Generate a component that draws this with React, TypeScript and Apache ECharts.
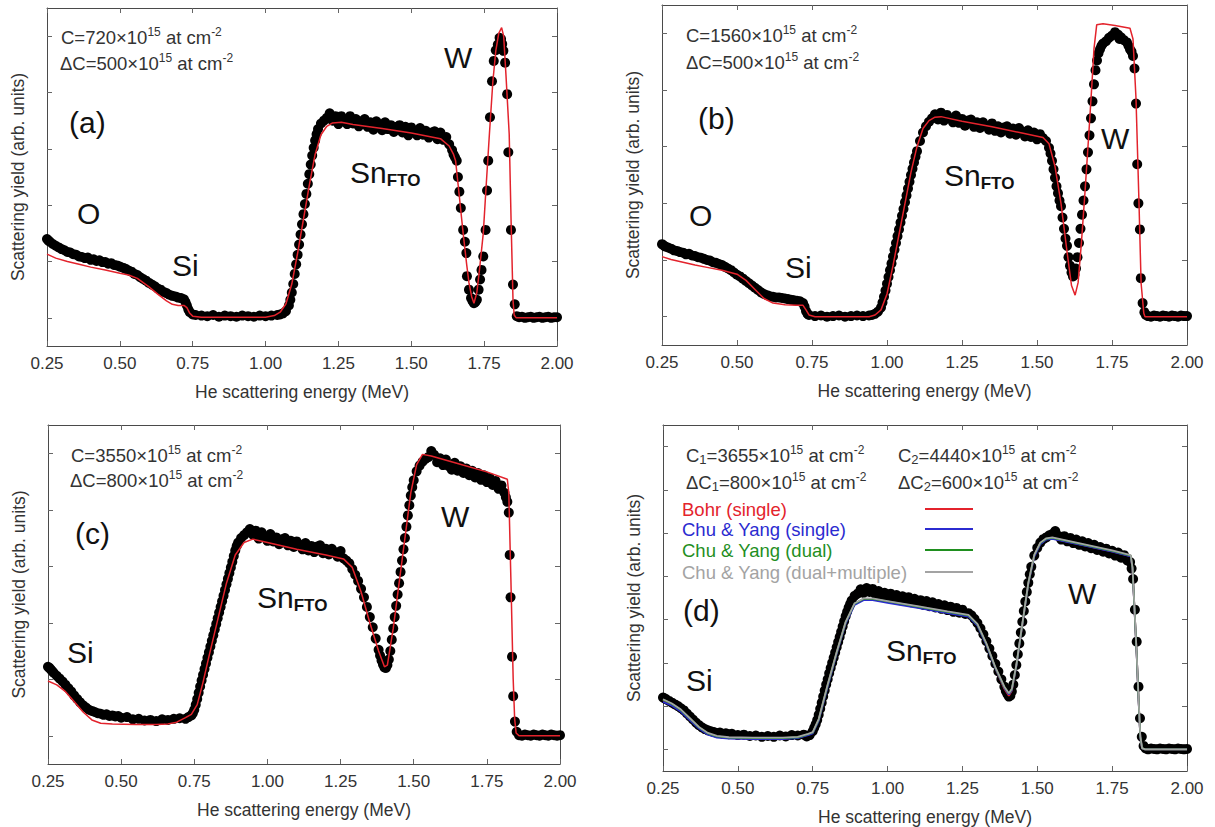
import React, { useEffect, useRef } from "react";
import * as echarts from "echarts";

// ---------------- DATA ----------------
const xTickStep = 0.25;
const xMin = 0.25;
const xMax = 2.0;
const yTicksABC = [0, 1, 2, 3, 4, 5];
const yTicksD = [0, 1, 2, 3, 4, 5, 6, 7];

const xTitle = "He scattering energy (MeV)";
const yTitle = "Scattering yield (arb. units)";

// Panel (a): measured spectrum (black dots)
const dotsA: number[][] = [
  [0.25,1.40],[0.255,1.37],[0.26,1.35],[0.27,1.31],[0.28,1.28],[0.29,1.25],[0.30,1.22],[0.31,1.20],[0.32,1.17],[0.33,1.16],
  [0.34,1.13],[0.35,1.12],[0.36,1.09],[0.37,1.08],[0.38,1.06],[0.39,1.07],[0.40,1.03],[0.41,1.04],[0.42,1.01],[0.43,1.02],
  [0.44,0.99],[0.45,0.99],[0.46,0.96],[0.47,0.97],[0.48,0.94],[0.49,0.93],[0.50,0.91],[0.51,0.89],[0.52,0.87],[0.53,0.84],
  [0.54,0.82],[0.55,0.78],[0.56,0.76],[0.57,0.72],[0.58,0.69],[0.59,0.66],[0.60,0.62],[0.61,0.59],[0.62,0.56],[0.63,0.52],
  [0.64,0.50],[0.65,0.46],[0.66,0.44],[0.67,0.41],[0.68,0.39],[0.69,0.38],[0.70,0.36],[0.71,0.35],[0.72,0.33],[0.725,0.28],
  [0.73,0.22],[0.735,0.15],[0.74,0.10],[0.75,0.06],[0.76,0.05],[0.78,0.04],[0.80,0.03],[0.82,0.05],[0.84,0.02],[0.86,0.04],
  [0.88,0.03],[0.90,0.02],[0.92,0.04],[0.94,0.03],[0.96,0.02],[0.98,0.04],[1.00,0.03],[1.02,0.04],[1.04,0.05],[1.05,0.06],
  [1.06,0.08],[1.07,0.12],[1.08,0.22],[1.085,0.32],[1.09,0.45],[1.095,0.60],[1.10,0.78],[1.105,0.95],[1.11,1.12],[1.115,1.30],
  [1.12,1.48],[1.125,1.66],[1.13,1.84],[1.135,2.02],[1.14,2.20],[1.145,2.38],[1.15,2.55],[1.155,2.72],[1.16,2.88],[1.165,3.02],
  [1.17,3.15],[1.175,3.26],[1.18,3.35],[1.19,3.45],[1.20,3.50],[1.21,3.55],[1.22,3.63],[1.23,3.50],[1.24,3.58],[1.25,3.44],
  [1.26,3.58],[1.27,3.51],[1.28,3.44],[1.29,3.58],[1.30,3.45],[1.31,3.53],[1.32,3.40],[1.33,3.49],[1.34,3.53],[1.35,3.39],
  [1.36,3.47],[1.37,3.34],[1.38,3.49],[1.39,3.41],[1.40,3.33],[1.41,3.47],[1.42,3.35],[1.43,3.42],[1.44,3.30],[1.45,3.39],
  [1.46,3.42],[1.47,3.29],[1.48,3.39],[1.49,3.24],[1.50,3.38],[1.51,3.31],[1.52,3.24],[1.53,3.37],[1.54,3.25],[1.55,3.32],
  [1.56,3.20],[1.57,3.29],[1.58,3.31],[1.59,3.17],[1.60,3.29],[1.61,3.16],[1.62,3.21],[1.63,3.08],[1.64,2.98],[1.645,2.90],
  [1.65,2.85],[1.656,2.79],[1.66,2.50],[1.665,2.24],[1.67,1.95],[1.678,1.56],[1.684,1.35],[1.689,1.15],[1.691,0.74],[1.698,0.50],
  [1.705,0.35],[1.71,0.30],[1.715,0.26],[1.72,0.28],[1.725,0.32],[1.731,0.50],[1.736,0.68],[1.741,0.85],[1.747,1.09],[1.755,1.56],
  [1.76,2.26],[1.764,2.79],[1.77,3.56],[1.777,4.20],[1.783,4.56],[1.79,4.75],[1.797,4.85],[1.803,4.97],[1.808,4.95],[1.812,4.86],
  [1.816,4.74],[1.822,4.53],[1.829,3.97],[1.833,2.94],[1.842,1.56],[1.849,0.59],[1.855,0.24],[1.862,0.03],[1.87,0.01],[1.88,0.02],
  [1.89,0.00],[1.90,0.01],[1.91,0.02],[1.92,0.00],[1.93,0.01],[1.94,0.02],[1.95,0.00],[1.96,0.01],[1.97,0.02],[1.98,0.00],
  [1.99,0.01],[2.00,0.01]
];
// Panel (a): simulation (red line)
const fitA: number[][] = [
  [0.25,1.13],[0.28,1.06],[0.32,1.00],[0.36,0.95],[0.40,0.90],[0.45,0.85],[0.50,0.79],[0.53,0.76],[0.56,0.70],[0.60,0.55],
  [0.63,0.42],[0.66,0.30],[0.68,0.24],[0.70,0.22],[0.72,0.22],[0.73,0.18],[0.74,0.08],[0.75,0.03],[0.78,0.01],[1.00,0.01],
  [1.03,0.04],[1.05,0.10],[1.07,0.25],[1.09,0.60],[1.11,1.15],[1.13,1.75],[1.15,2.35],[1.17,2.90],[1.19,3.25],[1.21,3.40],
  [1.23,3.46],[1.26,3.47],[1.30,3.43],[1.40,3.36],[1.50,3.28],[1.60,3.18],[1.63,3.05],[1.645,2.90],[1.652,2.79],[1.665,2.15],
  [1.678,1.50],[1.69,0.95],[1.698,0.62],[1.707,0.38],[1.715,0.26],[1.725,0.45],[1.735,0.90],[1.747,1.50],[1.757,2.35],[1.768,3.26],
  [1.78,4.20],[1.79,4.74],[1.80,5.05],[1.81,5.15],[1.817,5.00],[1.825,4.30],[1.836,3.26],[1.843,1.60],[1.849,0.32],[1.853,0.05],
  [1.86,0.00],[2.00,0.00]
];

// Panel (b)
const dotsB: number[][] = [
  [0.25,1.28],[0.255,1.26],[0.26,1.24],[0.27,1.22],[0.28,1.20],[0.29,1.17],[0.30,1.16],[0.31,1.14],[0.32,1.13],[0.33,1.10],
  [0.34,1.11],[0.35,1.08],[0.36,1.07],[0.37,1.05],[0.38,1.04],[0.39,1.02],[0.40,1.00],[0.41,0.99],[0.42,0.96],[0.43,0.95],
  [0.44,0.93],[0.45,0.91],[0.46,0.88],[0.47,0.85],[0.48,0.82],[0.49,0.78],[0.50,0.74],[0.51,0.71],[0.52,0.67],[0.53,0.63],
  [0.54,0.59],[0.55,0.55],[0.56,0.51],[0.57,0.47],[0.58,0.43],[0.59,0.40],[0.60,0.38],[0.61,0.36],[0.62,0.35],[0.63,0.34],
  [0.64,0.34],[0.65,0.33],[0.66,0.32],[0.67,0.31],[0.68,0.30],[0.69,0.29],[0.70,0.28],[0.71,0.27],[0.72,0.24],[0.725,0.18],
  [0.73,0.10],[0.735,0.05],[0.74,0.03],[0.76,0.01],[0.78,0.02],[0.80,0.00],[0.82,0.01],[0.84,0.02],[0.86,0.00],[0.88,0.01],
  [0.90,0.02],[0.92,0.01],[0.94,0.02],[0.95,0.03],[0.96,0.05],[0.97,0.09],[0.98,0.16],[0.985,0.25],[0.99,0.35],[0.995,0.46],
  [1.00,0.58],[1.005,0.70],[1.01,0.82],[1.015,0.94],[1.02,1.06],[1.025,1.18],[1.03,1.30],[1.035,1.42],[1.04,1.54],[1.045,1.66],
  [1.05,1.78],[1.055,1.90],[1.06,2.02],[1.065,2.14],[1.07,2.26],[1.075,2.38],[1.08,2.50],[1.085,2.61],[1.09,2.72],[1.095,2.82],
  [1.10,2.92],[1.11,3.10],[1.12,3.25],[1.13,3.36],[1.14,3.44],[1.15,3.50],[1.16,3.57],[1.17,3.48],[1.18,3.60],[1.19,3.46],
  [1.20,3.56],[1.21,3.50],[1.22,3.43],[1.23,3.55],[1.24,3.42],[1.25,3.49],[1.26,3.37],[1.27,3.46],[1.28,3.48],[1.29,3.35],
  [1.30,3.43],[1.31,3.33],[1.32,3.43],[1.33,3.37],[1.34,3.30],[1.35,3.41],[1.36,3.28],[1.37,3.36],[1.38,3.25],[1.39,3.34],
  [1.40,3.36],[1.41,3.23],[1.42,3.32],[1.43,3.21],[1.44,3.33],[1.45,3.27],[1.46,3.18],[1.47,3.29],[1.48,3.17],[1.49,3.25],
  [1.50,3.13],[1.51,3.22],[1.52,3.15],[1.53,3.10],[1.54,2.98],[1.545,2.88],[1.55,2.75],[1.555,2.60],[1.56,2.45],[1.565,2.30],
  [1.57,2.18],[1.575,2.05],[1.58,1.95],[1.585,1.75],[1.59,1.55],[1.595,1.38],[1.60,1.25],[1.605,1.05],[1.61,0.90],[1.615,0.78],
  [1.62,0.71],[1.625,0.74],[1.63,0.85],[1.635,1.05],[1.64,1.30],[1.645,1.55],[1.65,1.80],[1.655,2.05],[1.66,2.30],[1.665,2.60],
  [1.67,2.90],[1.675,3.20],[1.68,3.50],[1.685,3.80],[1.69,4.10],[1.695,4.35],[1.70,4.52],[1.705,4.65],[1.71,4.72],[1.715,4.78],
  [1.72,4.82],[1.73,4.86],[1.74,4.92],[1.75,4.96],[1.76,5.02],[1.77,4.98],[1.775,4.90],[1.78,4.93],[1.79,4.88],[1.80,4.84],
  [1.805,4.78],[1.81,4.72],[1.815,4.68],[1.82,4.60],[1.825,4.38],[1.83,3.76],[1.834,2.69],[1.838,2.00],[1.843,1.54],[1.846,0.68],
  [1.852,0.24],[1.858,0.08],[1.863,0.03],[1.87,0.01],[1.88,0.00],[1.89,0.02],[1.90,0.01],[1.91,0.00],[1.92,0.02],[1.93,0.01],
  [1.94,0.00],[1.95,0.02],[1.96,0.01],[1.97,0.00],[1.98,0.02],[1.99,0.01],[2.00,0.01]
];
const fitB: number[][] = [
  [0.25,1.06],[0.28,1.01],[0.32,0.96],[0.36,0.91],[0.40,0.87],[0.45,0.82],[0.50,0.75],[0.53,0.64],[0.56,0.48],[0.59,0.32],
  [0.62,0.24],[0.66,0.21],[0.70,0.20],[0.72,0.20],[0.73,0.12],[0.74,0.03],[0.76,0.00],[0.94,0.00],[0.96,0.03],[0.98,0.12],
  [1.00,0.40],[1.02,0.90],[1.04,1.45],[1.06,2.00],[1.08,2.55],[1.10,3.00],[1.12,3.32],[1.14,3.46],[1.16,3.52],[1.18,3.53],
  [1.25,3.45],[1.35,3.35],[1.45,3.24],[1.52,3.16],[1.54,3.05],[1.56,2.65],[1.58,2.00],[1.60,1.15],[1.615,0.55],[1.627,0.38],
  [1.637,0.60],[1.648,1.30],[1.66,2.20],[1.673,3.25],[1.683,4.10],[1.69,4.73],[1.699,5.15],[1.72,5.17],[1.76,5.14],[1.81,5.09],
  [1.82,4.90],[1.83,3.85],[1.84,2.00],[1.847,0.59],[1.856,0.06],[1.86,0.00],[2.00,0.00]
];

// Panel (c)
const dotsC: number[][] = [
  [0.25,1.22],[0.255,1.20],[0.26,1.17],[0.265,1.14],[0.27,1.11],[0.28,1.06],[0.29,1.01],[0.30,0.96],[0.31,0.90],[0.32,0.84],
  [0.33,0.78],[0.34,0.71],[0.35,0.65],[0.36,0.59],[0.37,0.54],[0.38,0.50],[0.39,0.46],[0.40,0.44],[0.41,0.42],[0.42,0.40],
  [0.43,0.39],[0.44,0.37],[0.45,0.38],[0.46,0.35],[0.47,0.36],[0.48,0.34],[0.49,0.35],[0.50,0.32],[0.52,0.33],[0.54,0.29],
  [0.56,0.30],[0.58,0.27],[0.60,0.28],[0.62,0.26],[0.64,0.29],[0.66,0.28],[0.68,0.30],[0.70,0.31],[0.72,0.30],[0.73,0.33],
  [0.74,0.36],[0.745,0.40],[0.75,0.46],[0.755,0.55],[0.76,0.65],[0.765,0.76],[0.77,0.87],[0.775,0.98],[0.78,1.08],[0.785,1.18],
  [0.79,1.28],[0.795,1.38],[0.80,1.48],[0.805,1.58],[0.81,1.68],[0.815,1.78],[0.82,1.88],[0.825,1.98],[0.83,2.08],[0.835,2.18],
  [0.84,2.28],[0.845,2.38],[0.85,2.48],[0.855,2.58],[0.86,2.68],[0.865,2.78],[0.87,2.88],[0.875,2.98],[0.88,3.08],[0.885,3.18],
  [0.89,3.28],[0.895,3.36],[0.90,3.42],[0.91,3.50],[0.92,3.55],[0.93,3.60],[0.94,3.66],[0.95,3.56],[0.96,3.63],[0.97,3.49],
  [0.98,3.60],[0.99,3.52],[1.00,3.45],[1.01,3.57],[1.02,3.44],[1.03,3.51],[1.04,3.39],[1.05,3.48],[1.06,3.50],[1.07,3.37],
  [1.08,3.45],[1.09,3.34],[1.10,3.44],[1.11,3.38],[1.12,3.30],[1.13,3.41],[1.14,3.28],[1.15,3.36],[1.16,3.25],[1.17,3.35],
  [1.18,3.37],[1.19,3.23],[1.20,3.31],[1.21,3.21],[1.22,3.31],[1.23,3.25],[1.24,3.17],[1.25,3.27],[1.26,3.14],[1.27,3.10],
  [1.28,3.05],[1.29,2.95],[1.30,2.85],[1.31,2.74],[1.32,2.60],[1.33,2.45],[1.34,2.28],[1.35,2.10],[1.36,1.92],[1.37,1.72],
  [1.38,1.52],[1.385,1.42],[1.39,1.33],[1.395,1.26],[1.40,1.21],[1.405,1.20],[1.41,1.25],[1.415,1.35],[1.42,1.50],[1.425,1.70],
  [1.43,1.90],[1.435,2.10],[1.44,2.30],[1.445,2.50],[1.45,2.70],[1.455,2.90],[1.46,3.10],[1.465,3.30],[1.47,3.50],[1.475,3.70],
  [1.48,3.90],[1.485,4.08],[1.49,4.25],[1.495,4.40],[1.50,4.52],[1.51,4.68],[1.52,4.78],[1.53,4.85],[1.54,4.90],[1.55,4.93],
  [1.56,5.04],[1.57,4.97],[1.58,4.84],[1.59,4.91],[1.60,4.79],[1.61,4.89],[1.62,4.77],[1.63,4.71],[1.64,4.83],[1.65,4.69],
  [1.66,4.77],[1.67,4.65],[1.68,4.73],[1.69,4.61],[1.70,4.69],[1.71,4.57],[1.72,4.65],[1.73,4.53],[1.74,4.61],[1.75,4.49],
  [1.76,4.56],[1.77,4.44],[1.78,4.51],[1.79,4.37],[1.80,4.43],[1.81,4.30],[1.815,4.22],[1.82,4.14],[1.825,3.95],[1.828,3.20],
  [1.831,2.45],[1.836,1.40],[1.84,0.70],[1.846,0.25],[1.852,0.07],[1.86,0.01],[1.87,0.00],[1.88,0.02],[1.89,0.01],[1.90,0.00],
  [1.91,0.02],[1.92,0.01],[1.93,0.00],[1.94,0.02],[1.95,0.01],[1.96,0.00],[1.97,0.02],[1.98,0.01],[1.99,0.00],[2.00,0.01]
];
const fitC: number[][] = [
  [0.25,0.97],[0.28,0.90],[0.31,0.78],[0.34,0.60],[0.37,0.42],[0.40,0.28],[0.43,0.22],[0.47,0.21],[0.55,0.20],[0.62,0.20],
  [0.66,0.21],[0.69,0.24],[0.72,0.32],[0.74,0.38],[0.76,0.55],[0.78,0.95],[0.80,1.40],[0.83,2.05],[0.86,2.70],[0.89,3.20],
  [0.92,3.42],[0.95,3.48],[1.00,3.42],[1.10,3.30],[1.20,3.20],[1.26,3.13],[1.29,2.98],[1.32,2.55],[1.35,2.00],[1.38,1.50],
  [1.40,1.22],[1.41,1.25],[1.43,1.90],[1.46,3.10],[1.49,4.30],[1.51,4.80],[1.53,4.98],[1.56,4.95],[1.65,4.82],[1.75,4.67],
  [1.82,4.54],[1.825,4.30],[1.832,2.80],[1.84,1.00],[1.845,0.30],[1.85,0.05],[1.86,0.00],[2.00,0.00]
];

// Panel (d)
const dotsD: number[][] = [
  [0.25,1.20],[0.255,1.18],[0.26,1.16],[0.27,1.12],[0.28,1.08],[0.29,1.04],[0.30,1.00],[0.31,0.95],[0.32,0.90],[0.33,0.83],
  [0.34,0.76],[0.35,0.69],[0.36,0.62],[0.37,0.56],[0.38,0.51],[0.39,0.47],[0.40,0.44],[0.41,0.42],[0.42,0.40],[0.43,0.38],
  [0.44,0.39],[0.45,0.36],[0.46,0.37],[0.47,0.35],[0.48,0.36],[0.50,0.33],[0.52,0.34],[0.54,0.31],[0.56,0.32],[0.58,0.29],
  [0.60,0.31],[0.62,0.29],[0.64,0.32],[0.66,0.30],[0.68,0.33],[0.70,0.32],[0.72,0.34],[0.73,0.30],[0.74,0.33],[0.75,0.42],
  [0.755,0.50],[0.76,0.58],[0.765,0.68],[0.77,0.80],[0.775,0.94],[0.78,1.08],[0.785,1.22],[0.79,1.36],[0.795,1.50],[0.80,1.62],
  [0.805,1.76],[0.81,1.88],[0.815,2.00],[0.82,2.12],[0.825,2.24],[0.83,2.36],[0.835,2.48],[0.84,2.60],[0.845,2.72],[0.85,2.84],
  [0.855,2.96],[0.86,3.08],[0.865,3.18],[0.87,3.28],[0.875,3.36],[0.88,3.44],[0.89,3.55],[0.90,3.60],[0.91,3.70],[0.92,3.62],
  [0.93,3.73],[0.94,3.64],[0.95,3.71],[0.96,3.58],[0.97,3.66],[0.98,3.54],[0.99,3.62],[1.00,3.52],[1.01,3.60],[1.02,3.48],
  [1.03,3.57],[1.04,3.45],[1.05,3.54],[1.06,3.43],[1.07,3.52],[1.08,3.40],[1.09,3.48],[1.10,3.38],[1.11,3.45],[1.12,3.34],
  [1.13,3.43],[1.14,3.31],[1.15,3.40],[1.16,3.28],[1.17,3.36],[1.18,3.25],[1.19,3.33],[1.20,3.22],[1.21,3.30],[1.22,3.18],
  [1.23,3.27],[1.24,3.16],[1.25,3.23],[1.26,3.13],[1.27,3.15],[1.28,3.10],[1.29,3.02],[1.30,2.92],[1.31,2.80],[1.32,2.66],
  [1.33,2.50],[1.34,2.33],[1.35,2.16],[1.36,1.98],[1.37,1.80],[1.38,1.62],[1.39,1.45],[1.395,1.35],[1.40,1.28],[1.405,1.22],
  [1.41,1.24],[1.415,1.34],[1.42,1.50],[1.425,1.72],[1.43,1.95],[1.435,2.20],[1.44,2.45],[1.445,2.70],[1.45,2.95],[1.455,3.20],
  [1.46,3.42],[1.465,3.64],[1.47,3.85],[1.475,4.05],[1.48,4.22],[1.49,4.48],[1.50,4.66],[1.51,4.78],[1.52,4.86],[1.53,4.90],
  [1.54,4.95],[1.55,4.98],[1.56,5.05],[1.57,4.94],[1.58,4.85],[1.59,4.93],[1.60,4.81],[1.61,4.89],[1.62,4.77],[1.63,4.85],
  [1.64,4.73],[1.65,4.81],[1.66,4.69],[1.67,4.77],[1.68,4.65],[1.69,4.73],[1.70,4.61],[1.71,4.68],[1.72,4.57],[1.73,4.64],
  [1.74,4.53],[1.75,4.59],[1.76,4.48],[1.77,4.55],[1.78,4.43],[1.79,4.49],[1.80,4.37],[1.81,4.33],[1.815,4.18],[1.82,3.94],
  [1.826,3.23],[1.832,2.49],[1.838,1.45],[1.843,0.72],[1.849,0.29],[1.855,0.08],[1.862,0.02],[1.87,0.00],[1.88,0.02],[1.89,0.01],
  [1.90,0.00],[1.91,0.02],[1.92,0.01],[1.93,0.00],[1.94,0.02],[1.95,0.01],[1.96,0.00],[1.97,0.02],[1.98,0.01],[1.99,0.00],
  [2.00,0.01]
];
const fitDBohr: number[][] = [
  [0.25,1.14],[0.28,1.04],[0.31,0.90],[0.34,0.70],[0.37,0.50],[0.40,0.36],[0.43,0.29],[0.47,0.26],[0.55,0.25],[0.65,0.25],
  [0.70,0.27],[0.72,0.31],[0.735,0.34],[0.75,0.38],[0.77,0.68],[0.80,1.48],[0.83,2.23],[0.86,2.93],[0.89,3.36],[0.92,3.47],
  [0.95,3.47],[1.00,3.41],[1.10,3.29],[1.20,3.17],[1.27,3.09],[1.30,2.88],[1.33,2.43],[1.36,1.88],[1.39,1.40],[1.405,1.24],
  [1.415,1.36],[1.43,1.93],[1.45,2.88],[1.47,3.83],[1.49,4.48],[1.51,4.76],[1.53,4.86],[1.55,4.88],[1.65,4.73],[1.75,4.58],
  [1.812,4.47],[1.818,4.19],[1.825,3.19],[1.832,2.19],[1.838,1.19],[1.844,0.29],[1.85,0.02],[1.86,0.00],[2.00,0.00]
];
const fitDSingle: number[][] = [
  [0.25,1.10],[0.28,1.01],[0.31,0.87],[0.34,0.67],[0.37,0.48],[0.40,0.34],[0.43,0.27],[0.47,0.25],[0.55,0.24],[0.65,0.24],
  [0.70,0.26],[0.72,0.30],[0.735,0.33],[0.75,0.37],[0.77,0.66],[0.80,1.45],[0.83,2.21],[0.86,2.91],[0.89,3.34],[0.92,3.45],
  [0.95,3.45],[1.00,3.39],[1.10,3.27],[1.20,3.15],[1.27,3.07],[1.30,2.86],[1.33,2.41],[1.36,1.87],[1.39,1.42],[1.405,1.27],
  [1.415,1.37],[1.43,1.92],[1.45,2.88],[1.47,3.82],[1.49,4.46],[1.51,4.74],[1.53,4.85],[1.55,4.87],[1.65,4.72],[1.75,4.57],
  [1.812,4.46],[1.818,4.18],[1.825,3.18],[1.832,2.18],[1.838,1.18],[1.844,0.28],[1.85,0.02],[1.86,0.00],[2.00,0.00]
];
const fitDDual: number[][] = [
  [0.25,1.15],[0.28,1.05],[0.31,0.91],[0.34,0.71],[0.37,0.51],[0.40,0.37],[0.43,0.30],[0.47,0.27],[0.55,0.26],[0.65,0.26],
  [0.70,0.28],[0.72,0.32],[0.735,0.35],[0.75,0.39],[0.77,0.69],[0.80,1.49],[0.83,2.24],[0.86,2.94],[0.89,3.37],[0.92,3.48],
  [0.95,3.48],[1.00,3.42],[1.10,3.30],[1.20,3.18],[1.27,3.10],[1.30,2.89],[1.33,2.44],[1.36,1.89],[1.39,1.44],[1.405,1.29],
  [1.415,1.39],[1.43,1.94],[1.45,2.89],[1.47,3.84],[1.49,4.49],[1.51,4.77],[1.53,4.87],[1.55,4.89],[1.65,4.74],[1.75,4.59],
  [1.812,4.48],[1.818,4.20],[1.825,3.20],[1.832,2.20],[1.838,1.20],[1.844,0.30],[1.85,0.03],[1.86,0.00],[2.00,0.00]
];
const fitDMultiple: number[][] = [
  [0.25,1.16],[0.28,1.06],[0.31,0.92],[0.34,0.72],[0.37,0.52],[0.40,0.38],[0.43,0.31],[0.47,0.28],[0.55,0.27],[0.65,0.27],
  [0.70,0.29],[0.72,0.33],[0.735,0.36],[0.75,0.40],[0.77,0.70],[0.80,1.50],[0.83,2.25],[0.86,2.95],[0.89,3.38],[0.92,3.49],
  [0.95,3.49],[1.00,3.43],[1.10,3.31],[1.20,3.19],[1.27,3.11],[1.30,2.90],[1.33,2.45],[1.36,1.90],[1.39,1.45],[1.405,1.30],
  [1.415,1.40],[1.43,1.95],[1.45,2.90],[1.47,3.85],[1.49,4.50],[1.51,4.78],[1.53,4.88],[1.55,4.90],[1.65,4.75],[1.75,4.60],
  [1.812,4.49],[1.818,4.21],[1.825,3.21],[1.832,2.21],[1.838,1.21],[1.844,0.31],[1.85,0.03],[1.86,0.00],[2.00,0.00]
];

const legendNamesD = ["Bohr (single)", "Chu & Yang (single)", "Chu & Yang (dual)", "Chu & Yang (dual+multiple)"];
const panelTags = ["(a)", "(b)", "(c)", "(d)"];
const doseA = ["720", "500"];
const doseB = ["1560", "500"];
const doseC = ["3550", "800"];
const doseD = ["3655", "800", "4440", "600"];

// ---------------- STYLE / LAYOUT ----------------
const FONT = "'Liberation Sans', Arial, Helvetica, sans-serif";
const RED = "#e3232c";
const BLUE = "#2b2bd0";
const GREEN = "#1f8f1f";
const GRAY = "#a3a3a3";
const AXIS = "#4a4a4a";
const TXT = "#333333";

const GRIDS = [
  { left: 47, top: 8, width: 510, height: 338 },
  { left: 662, top: 5, width: 525, height: 340 },
  { left: 48, top: 425, width: 512, height: 339 },
  { left: 663, top: 425, width: 524, height: 346 },
];

const RICH = {
  n: { fontSize: 18.5, fontFamily: FONT, fill: TXT, lineHeight: 22 },
  sup: { fontSize: 12, fontFamily: FONT, fill: TXT, lineHeight: 13, verticalAlign: "top" },
  sub: { fontSize: 13, fontFamily: FONT, fill: TXT, lineHeight: 9, verticalAlign: "bottom" },
  big: { fontSize: 30, fontFamily: FONT, fill: "#111", lineHeight: 34 },
  fto: { fontSize: 17, fontFamily: FONT, fontWeight: "bold", fill: "#111", lineHeight: 18, verticalAlign: "bottom" },
};

function rtext(x: number, y: number, text: string, extra: any = {}) {
  return {
    type: "text",
    x,
    y,
    silent: true,
    style: { text, rich: RICH, align: "left", verticalAlign: "middle", fill: TXT, font: `18px ${FONT}`, ...extra },
  };
}
function big(x: number, y: number, t: string) {
  return rtext(x, y, `{big|${t}}`);
}
function sn(x: number, y: number) {
  return rtext(x, y, "{big|Sn}{fto|FTO}");
}
function doseLine(prefix: string, sub: string, v: string) {
  return `{n|${prefix}}` + (sub ? `{sub|${sub}}` : "") + `{n|=${v}×10}{sup|15}{n| at cm}{sup|-2}`;
}

export default function App() {
  const ref = useRef<HTMLDivElement>(null);
  useEffect(() => {
    if (!ref.current) return;
    const chart = echarts.init(ref.current, null, { renderer: "svg" });

    const xAxis: any[] = [];
    const yAxis: any[] = [];
    GRIDS.forEach((_, i) => {
      const yMax = i === 3 ? 7.5 : 5.5;
      const yTicks = i === 3 ? yTicksD : yTicksABC;
      const lineCfg = { show: true, onZero: false, lineStyle: { color: AXIS, width: 1 } };
      const tickCfg = { show: true, inside: true, length: 5, lineStyle: { color: "#666", width: 1 } };
      xAxis.push({
        type: "value", gridIndex: i, position: "bottom", min: xMin, max: xMax, interval: xTickStep,
        axisLine: lineCfg, axisTick: tickCfg, splitLine: { show: false },
        axisLabel: { show: true, margin: 9, fontSize: 17, fontFamily: FONT, color: TXT, formatter: (v: number) => v.toFixed(2) },
        name: xTitle, nameLocation: "middle", nameGap: 37,
        nameTextStyle: { fontSize: 17.5, fontFamily: FONT, color: TXT },
      });
      xAxis.push({
        type: "value", gridIndex: i, position: "top", min: xMin, max: xMax, interval: xTickStep,
        axisLine: lineCfg, axisTick: tickCfg, splitLine: { show: false }, axisLabel: { show: false },
      });
      yAxis.push({
        type: "value", gridIndex: i, position: "left", min: -0.5, max: yMax,
        axisLine: lineCfg, axisTick: { ...tickCfg, customValues: yTicks }, splitLine: { show: false },
        axisLabel: { show: false },
        name: yTitle, nameLocation: "middle", nameGap: 20,
        nameTextStyle: { fontSize: 17.5, fontFamily: FONT, color: TXT },
      });
      yAxis.push({
        type: "value", gridIndex: i, position: "right", min: -0.5, max: yMax,
        axisLine: lineCfg, axisTick: { ...tickCfg, customValues: yTicks }, splitLine: { show: false },
        axisLabel: { show: false },
      });
    });

    const dots = (data: number[][], gi: number) => ({
      type: "scatter", xAxisIndex: gi * 2, yAxisIndex: gi * 2, data, symbol: "circle", symbolSize: 10,
      itemStyle: { color: "#000000", opacity: 1 }, silent: true, z: 2,
    });
    const fit = (data: number[][], gi: number, color: string, name: string, width: number, z: number) => ({
      type: "line", name, xAxisIndex: gi * 2, yAxisIndex: gi * 2, data, showSymbol: false, symbol: "none",
      lineStyle: { color, width }, silent: true, z,
    });

    const series = [
      dots(dotsA, 0), fit(fitA, 0, RED, "Simulation (a)", 1.5, 3),
      dots(dotsB, 1), fit(fitB, 1, RED, "Simulation (b)", 1.5, 3),
      dots(dotsC, 2), fit(fitC, 2, RED, "Simulation (c)", 1.5, 3),
      dots(dotsD, 3),
      fit(fitDBohr, 3, RED, legendNamesD[0], 1.8, 3),
      fit(fitDSingle, 3, BLUE, legendNamesD[1], 1.8, 4),
      fit(fitDDual, 3, GREEN, legendNamesD[2], 1.8, 5),
      fit(fitDMultiple, 3, GRAY, legendNamesD[3], 1.8, 6),
    ];

    const legendColors = [RED, BLUE, GREEN, GRAY];
    const legendY = [509, 529, 550, 572];
    const graphic: any[] = [
      // (a)
      rtext(61, 37, doseLine("C", "", doseA[0])),
      rtext(60, 63, doseLine("ΔC", "", doseA[1])),
      big(69, 122, panelTags[0]), big(77, 213, "O"), big(172, 265, "Si"), sn(350, 172), big(444, 57, "W"),
      // (b)
      rtext(686, 35, doseLine("C", "", doseB[0])),
      rtext(686, 62, doseLine("ΔC", "", doseB[1])),
      big(698, 118, panelTags[1]), big(689, 215, "O"), big(785, 267, "Si"), sn(944, 175), big(1101, 138, "W"),
      // (c)
      rtext(71, 455, doseLine("C", "", doseC[0])),
      rtext(70, 480, doseLine("ΔC", "", doseC[1])),
      big(75, 533, panelTags[2]), big(67, 652, "Si"), sn(257, 597), big(441, 516, "W"),
      // (d)
      rtext(686, 455, doseLine("C", "1", doseD[0])),
      rtext(898, 455, doseLine("C", "2", doseD[2])),
      rtext(686, 482, doseLine("ΔC", "1", doseD[1])),
      rtext(898, 482, doseLine("ΔC", "2", doseD[3])),
      big(683, 610, panelTags[3]), big(686, 680, "Si"), sn(886, 650), big(1068, 593, "W"),
    ];
    legendNamesD.forEach((name, k) => {
      graphic.push({
        type: "text", x: 682, y: legendY[k], silent: true,
        style: { text: name, fill: legendColors[k], font: `18.5px ${FONT}`, align: "left", verticalAlign: "middle" },
      });
      graphic.push({
        type: "line", silent: true,
        shape: { x1: 925, y1: legendY[k], x2: 973, y2: legendY[k] },
        style: { stroke: legendColors[k], lineWidth: 2 },
      });
    });

    chart.setOption({
      animation: false,
      backgroundColor: "#ffffff",
      textStyle: { fontFamily: FONT },
      grid: GRIDS.map((g) => ({ ...g, containLabel: false })),
      xAxis,
      yAxis,
      series,
      graphic,
    });
    return () => chart.dispose();
  }, []);
  return (
    <div
      ref={ref}
      style={{ position: "absolute", left: 0, top: 0, width: 1215, height: 827, background: "#fff" }}
    />
  );
}
